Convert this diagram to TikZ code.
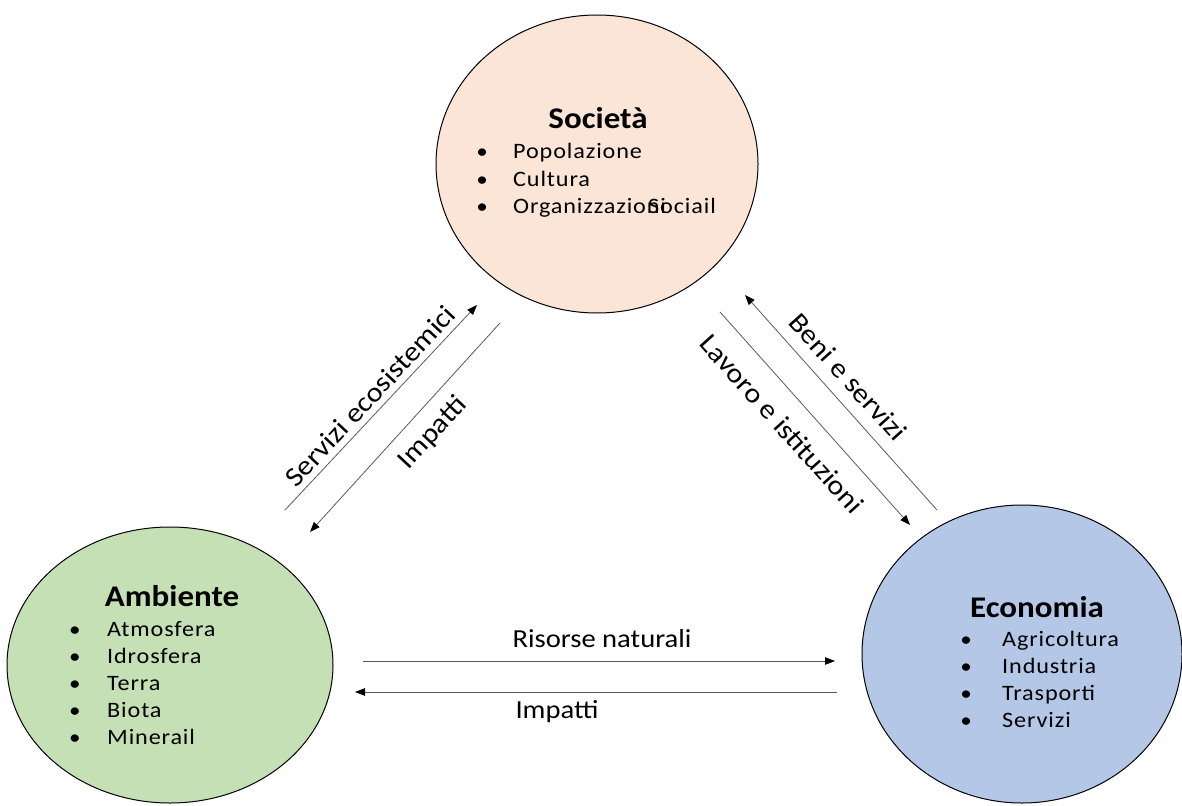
\documentclass[tikz,border=0pt]{standalone}
\usepackage{fontspec}
\setmainfont{Carlito}[FakeStretch=1.1]
\newfontfamily\itemfont{Carlito}[FakeStretch=1.1,LetterSpace=4]
\usetikzlibrary{arrows.meta,shapes.geometric}
\definecolor{socfill}{HTML}{FBE5D6}
\definecolor{ambfill}{HTML}{C5E0B4}
\definecolor{ecofill}{HTML}{B4C7E7}
\definecolor{flowline}{HTML}{5A5A5A}

\begin{document}
\begin{tikzpicture}[x=1pt,y=-1pt,
  sphere/.style={ellipse,draw=black,line width=1pt,inner sep=0pt},
  title/.style={anchor=base,font=\fontsize{30}{36}\selectfont\bfseries},
  dot/.style={anchor=base,inner sep=0pt,font=\fontsize{21}{27}\selectfont},
  entry/.style={anchor=base west,inner sep=0pt,font=\itemfont\fontsize{22}{27}\selectfont},
  flowlabel/.style={anchor=center,inner sep=0pt,font=\fontsize{27.5}{33}\selectfont},
  flowlabelh/.style={anchor=base,inner sep=0pt,font=\fontsize{26}{31}\selectfont},
  flow/.style={draw=flowline,line width=0.8pt,-{Triangle[length=10pt,width=7.5pt,color=black]}}]
\useasboundingbox (0,0) rectangle (1182,805);

% the three spheres
\node[sphere,fill=socfill,minimum width=322pt,minimum height=298pt] (soc) at (597,164) {};
\node[sphere,fill=ambfill,minimum width=326pt,minimum height=276pt] (amb) at (170,665) {};
\node[sphere,fill=ecofill,minimum width=320pt,minimum height=298pt] (eco) at (1022,654) {};

% Società
\node[title] (soct) at (598,129) {Società};
\foreach \t [count=\i] in {Popolazione,Cultura,Organizzazioni}{
  \node[dot] (socb\i) at (482,159+27*\i-27) {\textbullet};
  \node[entry] (soce\i) at (513,159+27*\i-27) {\t};
}
\node[entry] (soce4) at (648,213) {Sociail};

% Ambiente
\node[title] (ambt) at (172,606) {Ambiente};
\foreach \t [count=\i] in {Atmosfera,Idrosfera,Terra,Biota,Minerail}{
  \node[dot] (ambb\i) at (75,636+27.2*\i-27.2) {\textbullet};
  \node[entry] (ambe\i) at (107,636+27.2*\i-27.2) {\t};
}

% Economia
\node[title] (ecot) at (1037,617) {Economia};
\foreach \t [count=\i] in {Agricoltura,Industria,Trasporti,Servizi}{
  \node[dot] (ecob\i) at (966,646+27*\i-27) {\textbullet};
  \node[entry] (ecoe\i) at (1002,646+27*\i-27) {\t};
}

% flow end points
\coordinate (seA) at (285,510); \coordinate (seB) at (477,305);
\coordinate (imA) at (500,323); \coordinate (imB) at (310,532);
\coordinate (beA) at (937,510); \coordinate (beB) at (745,295);
\coordinate (laA) at (720,312); \coordinate (laB) at (910,525);
\coordinate (rnA) at (363,661); \coordinate (rnB) at (835,661);
\coordinate (ipA) at (837,692); \coordinate (ipB) at (355,692);

% flows
\draw[flow] (seA) -- (seB);
\draw[flow] (imA) -- (imB);
\draw[flow] (beA) -- (beB);
\draw[flow] (laA) -- (laB);
\draw[flow] (rnA) -- (rnB);
\draw[flow] (ipA) -- (ipB);

% flow labels
\node[flowlabel,rotate=47] (lse) at (370,396) {Servizi ecosistemici};
\node[flowlabel,rotate=47] (lim) at (433,433) {Impatti};
\node[flowlabel,rotate=-48] (lbe) at (848,377) {Beni e servizi};
\node[flowlabel,rotate=-48] (lla) at (782,424) {Lavoro e istituzioni};
\node[flowlabelh] (lrn) at (602,647) {Risorse naturali};
\node[flowlabelh] (lip) at (557,718) {Impatti};
\end{tikzpicture}
\end{document}
